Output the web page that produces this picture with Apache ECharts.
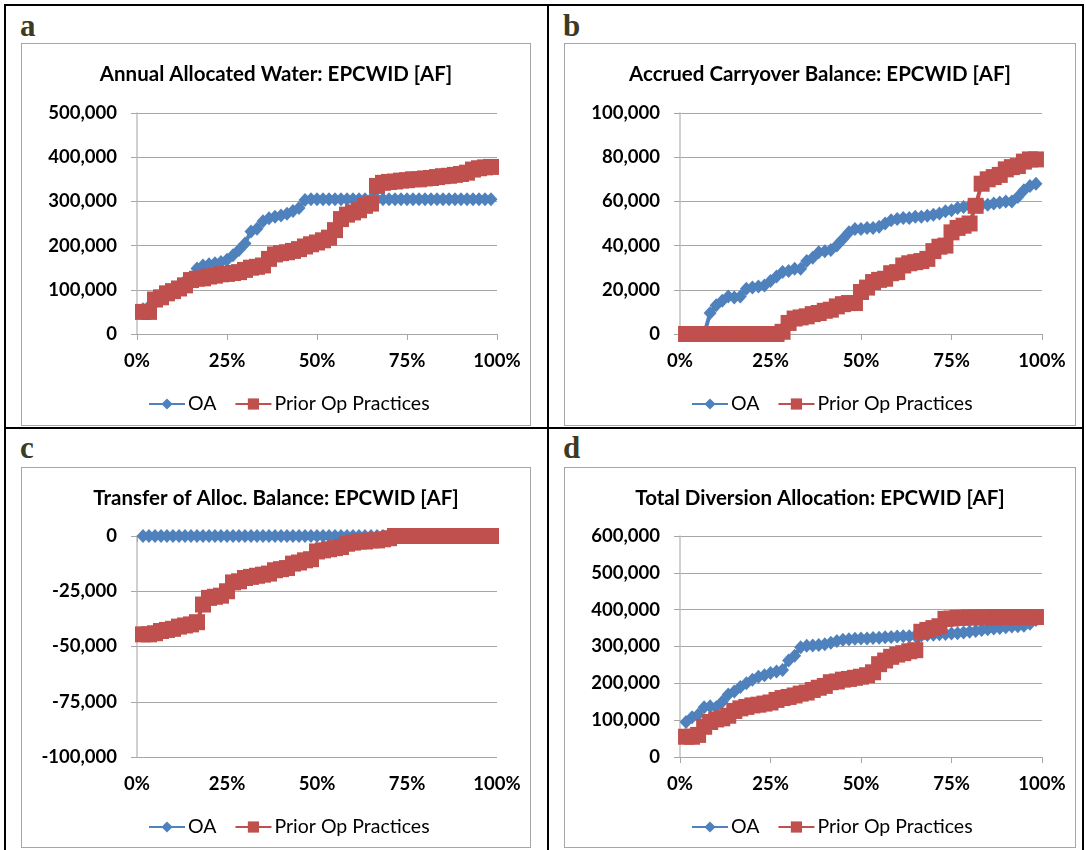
<!DOCTYPE html>
<html>
<head>
<meta charset="utf-8">
<script src="https://cdn.jsdelivr.net/npm/echarts/dist/echarts.min.js"></script>
<style>
body { margin: 0; background: #fff; width: 1086px; height: 850px; position: relative; overflow: hidden; }
.rule { position: absolute; background: #000; }
.tag { position: absolute; font: bold 31px/31px "Liberation Serif"; color: #3b3b24; }
.chart { position: absolute; outline: 1.5px solid #a6a6a6; outline-offset: -1px; }
</style>
</head>
<body>
<div class="rule" style="left:4px;top:4px;width:1080px;height:2px"></div>
<div class="rule" style="left:4px;top:4px;width:2px;height:846px"></div>
<div class="rule" style="left:1082px;top:4px;width:2px;height:846px"></div>
<div class="rule" style="left:547px;top:4px;width:2px;height:846px"></div>
<div class="rule" style="left:4px;top:427px;width:1080px;height:2px"></div>

<div class="tag" style="left:20px;top:10px">a</div>
<div class="tag" style="left:563px;top:10px">b</div>
<div class="tag" style="left:20px;top:432px">c</div>
<div class="tag" style="left:563px;top:432px">d</div>

<div id="chartA" class="chart" style="left:21px;top:43px;width:510px;height:383px"></div>
<div id="chartB" class="chart" style="left:564px;top:43px;width:512px;height:383px"></div>
<div id="chartC" class="chart" style="left:21px;top:467px;width:510px;height:381px"></div>
<div id="chartD" class="chart" style="left:564px;top:467px;width:512px;height:381px"></div>

<script>
// exceedance probability of each ranked year (%)
const exceedPct = [1.67, 3.33, 5, 6.67, 8.33, 10, 11.67, 13.33, 15, 16.67, 18.33, 20, 21.67, 23.33, 25, 26.67, 28.33, 30, 31.67, 33.33,
  35, 36.67, 38.33, 40, 41.67, 43.33, 45, 46.67, 48.33, 50, 51.67, 53.33, 55, 56.67, 58.33, 60, 61.67, 63.33, 65, 66.67,
  68.33, 70, 71.67, 73.33, 75, 76.67, 78.33, 80, 81.67, 83.33, 85, 86.67, 88.33, 90, 91.67, 93.33, 95, 96.67, 98.33];

// a - Annual Allocated Water
const oaAnnual = [56000, 62000, 70000, 80000, 90000, 100000, 108000, 120000, 128000, 148000,
  155000, 158000, 160000, 163000, 168000, 178000, 190000, 205000, 232000, 238000,
  255000, 262000, 265000, 268000, 272000, 278000, 285000, 303000, 305000, 305000,
  305000, 305000, 305000, 305000, 305000, 305000, 305000, 305000, 305000, 305000,
  305000, 305000, 305000, 305000, 305000, 305000, 305000, 305000, 305000, 305000,
  305000, 305000, 305000, 305000, 305000, 305000, 305000, 305000, 305000];
const priorAnnual = [50000, 50000, 78000, 83000, 92000, 97000, 103000, 110000, 122000, 125000,
  126000, 130000, 132000, 135000, 136000, 138000, 140000, 145000, 150000, 152000,
  155000, 170000, 180000, 183000, 185000, 188000, 192000, 198000, 203000, 207000,
  212000, 218000, 235000, 260000, 270000, 275000, 280000, 290000, 295000, 335000,
  342000, 344000, 345000, 347000, 348000, 350000, 350000, 352000, 353000, 355000,
  357000, 358000, 360000, 362000, 365000, 372000, 375000, 377000, 378000];

// b - Accrued Carryover Balance
const oaCarry = [0, 0, 0, 0, 9500, 13000, 15000, 17000, 16500, 17000,
  20500, 21000, 21500, 22000, 24000, 26000, 28000, 28500, 29500, 29500,
  33000, 34500, 37000, 37500, 38000, 40000, 43000, 46000, 47500, 47500,
  48000, 48000, 48500, 50000, 51500, 52000, 52500, 52500, 53000, 53000,
  53500, 54000, 54500, 55500, 56000, 57000, 57500, 58000, 58000, 58500,
  58500, 59000, 59500, 60000, 60000, 62000, 65000, 67000, 68000];
const priorCarry = [0, 0, 0, 0, 0, 0, 0, 0, 0, 0,
  0, 0, 0, 0, 0, 0, 1000, 5000, 7000, 7500,
  8000, 9000, 9500, 10500, 11000, 12500, 13500, 14000, 14000, 19000,
  21000, 23500, 24500, 25000, 27500, 28000, 31000, 32000, 32500, 33000,
  34000, 37500, 39500, 40000, 46000, 48000, 49000, 50000, 58000, 68000,
  70000, 71000, 72000, 74500, 75500, 76000, 78000, 79000, 79000];

// c - Transfer of Alloc. Balance
const oaTransfer = [0, 0, 0, 0, 0, 0, 0, 0, 0, 0, 0, 0, 0, 0, 0, 0, 0, 0, 0, 0,
  0, 0, 0, 0, 0, 0, 0, 0, 0, 0, 0, 0, 0, 0, 0, 0, 0, 0, 0, 0,
  0, 0, 0, 0, 0, 0, 0, 0, 0, 0, 0, 0, 0, 0, 0, 0, 0, 0, 0];
const priorTransfer = [-44500, -44500, -44000, -43000, -42500, -42000, -41000, -40500, -40000, -39000,
  -31000, -28000, -27500, -27000, -25000, -21000, -20500, -19000, -18500, -18000,
  -17500, -17000, -15500, -15000, -14500, -12500, -12000, -11000, -10500, -7000,
  -6500, -6000, -5500, -5000, -3500, -3000, -2500, -2500, -2000, -2000,
  -1500, -1000, 0, 0, 0, 0, 0, 0, 0, 0,
  0, 0, 0, 0, 0, 0, 0, 0, 0];

// d - Total Diversion Allocation
const oaTotal = [95000, 108000, 115000, 135000, 138000, 135000, 150000, 170000, 178000, 190000,
  200000, 210000, 218000, 222000, 228000, 232000, 236000, 262000, 275000, 298000,
  302000, 303000, 304000, 306000, 310000, 315000, 318000, 320000, 321000, 322000,
  322000, 323000, 324000, 325000, 326000, 327000, 328000, 328000, 329000, 330000,
  331000, 332000, 333000, 334000, 335000, 336000, 338000, 340000, 342000, 345000,
  347000, 349000, 350000, 352000, 354000, 355000, 356000, 362000, 372000];
const priorTotal = [55000, 55000, 60000, 82000, 95000, 102000, 105000, 112000, 125000, 132000,
  136000, 140000, 142000, 145000, 148000, 155000, 160000, 163000, 167000, 172000,
  175000, 182000, 188000, 193000, 203000, 205000, 210000, 212000, 215000, 218000,
  222000, 230000, 252000, 262000, 272000, 278000, 282000, 287000, 290000, 340000,
  345000, 350000, 355000, 375000, 376000, 378000, 378000, 379000, 379000, 379000,
  379000, 380000, 380000, 380000, 380000, 380000, 380000, 380000, 380000];

const seriesNames = ["OA", "Prior Op Practices"];
const font = "Lato";

function pairs(vals) {
  return exceedPct.map((x, i) => [x, vals[i]]);
}

//初始化图表
function initChart(id, cfg) {
  let myChart = echarts.init(document.getElementById(id));
  let option = {
    animation: false,
    title: {
      text: cfg.title,
      left: "center",
      top: 16,
      textStyle: { fontFamily: font, fontWeight: "bold", fontSize: 20.5, color: "#000" },
    },
    grid: { left: 116, right: cfg.right, top: cfg.top, bottom: cfg.bottom },
    legend: {
      left: 122,
      top: cfg.legendTop,
      itemWidth: 36,
      itemHeight: 14,
      itemGap: 18,
      textStyle: { fontFamily: font, fontSize: 19.5, color: "#000", padding: [0, 0, 0, -2] },
      data: seriesNames,
    },
    xAxis: {
      type: "value",
      min: 0,
      max: 100,
      interval: 25,
      axisLine: { onZero: true, lineStyle: { color: "#a6a6a6" } },
      axisTick: { length: 6, lineStyle: { color: "#a6a6a6" } },
      splitLine: { show: false },
      axisLabel: { formatter: "{value}%", margin: 18, fontFamily: font, fontWeight: "bold", fontSize: 18.5, color: "#000" },
    },
    yAxis: {
      type: "value",
      min: cfg.min,
      max: cfg.max,
      interval: cfg.interval,
      axisLine: { show: true, lineStyle: { color: "#c0c0c0", width: 1.5 } },
      axisTick: { show: true, length: 6, lineStyle: { color: "#a6a6a6" } },
      splitLine: { lineStyle: { color: "#a6a6a6" } },
      axisLabel: {
        formatter: (v) => echarts.format.addCommas(v),
        margin: 20,
        fontFamily: font,
        fontWeight: "bold",
        fontSize: 18.5,
        color: "#000",
      },
    },
    series: [
      {
        name: seriesNames[0],
        type: "line",
        data: pairs(cfg.oa),
        symbol: "diamond",
        symbolSize: [13, 14],
        showAllSymbol: true,
        itemStyle: { color: "#4f81bd" },
        lineStyle: { color: "#4f81bd", width: 4 },
        emphasis: { disabled: true },
      },
      {
        name: seriesNames[1],
        type: "line",
        data: pairs(cfg.prior),
        symbol: "rect",
        symbolSize: 16,
        showAllSymbol: true,
        itemStyle: { color: "#c0504d" },
        lineStyle: { color: "#c0504d", width: 4 },
        emphasis: { disabled: true },
      },
    ],
  };
  myChart.setOption(option);
}

initChart("chartA", {
  title: "Annual Allocated Water: EPCWID [AF]",
  min: 0, max: 500000, interval: 100000,
  top: 70, bottom: 92, right: 34, legendTop: 346,
  oa: oaAnnual, prior: priorAnnual,
});
initChart("chartB", {
  title: "Accrued Carryover Balance: EPCWID [AF]",
  min: 0, max: 100000, interval: 20000,
  top: 70, bottom: 92, right: 34, legendTop: 346,
  oa: oaCarry, prior: priorCarry,
});
initChart("chartC", {
  title: "Transfer of Alloc. Balance: EPCWID [AF]",
  min: -100000, max: 0, interval: 25000,
  top: 69, bottom: 91, right: 34, legendTop: 345,
  oa: oaTransfer, prior: priorTransfer,
});
initChart("chartD", {
  title: "Total Diversion Allocation: EPCWID [AF]",
  min: 0, max: 600000, interval: 100000,
  top: 69, bottom: 91, right: 34, legendTop: 345,
  oa: oaTotal, prior: priorTotal,
});
</script>
</body>
</html>
